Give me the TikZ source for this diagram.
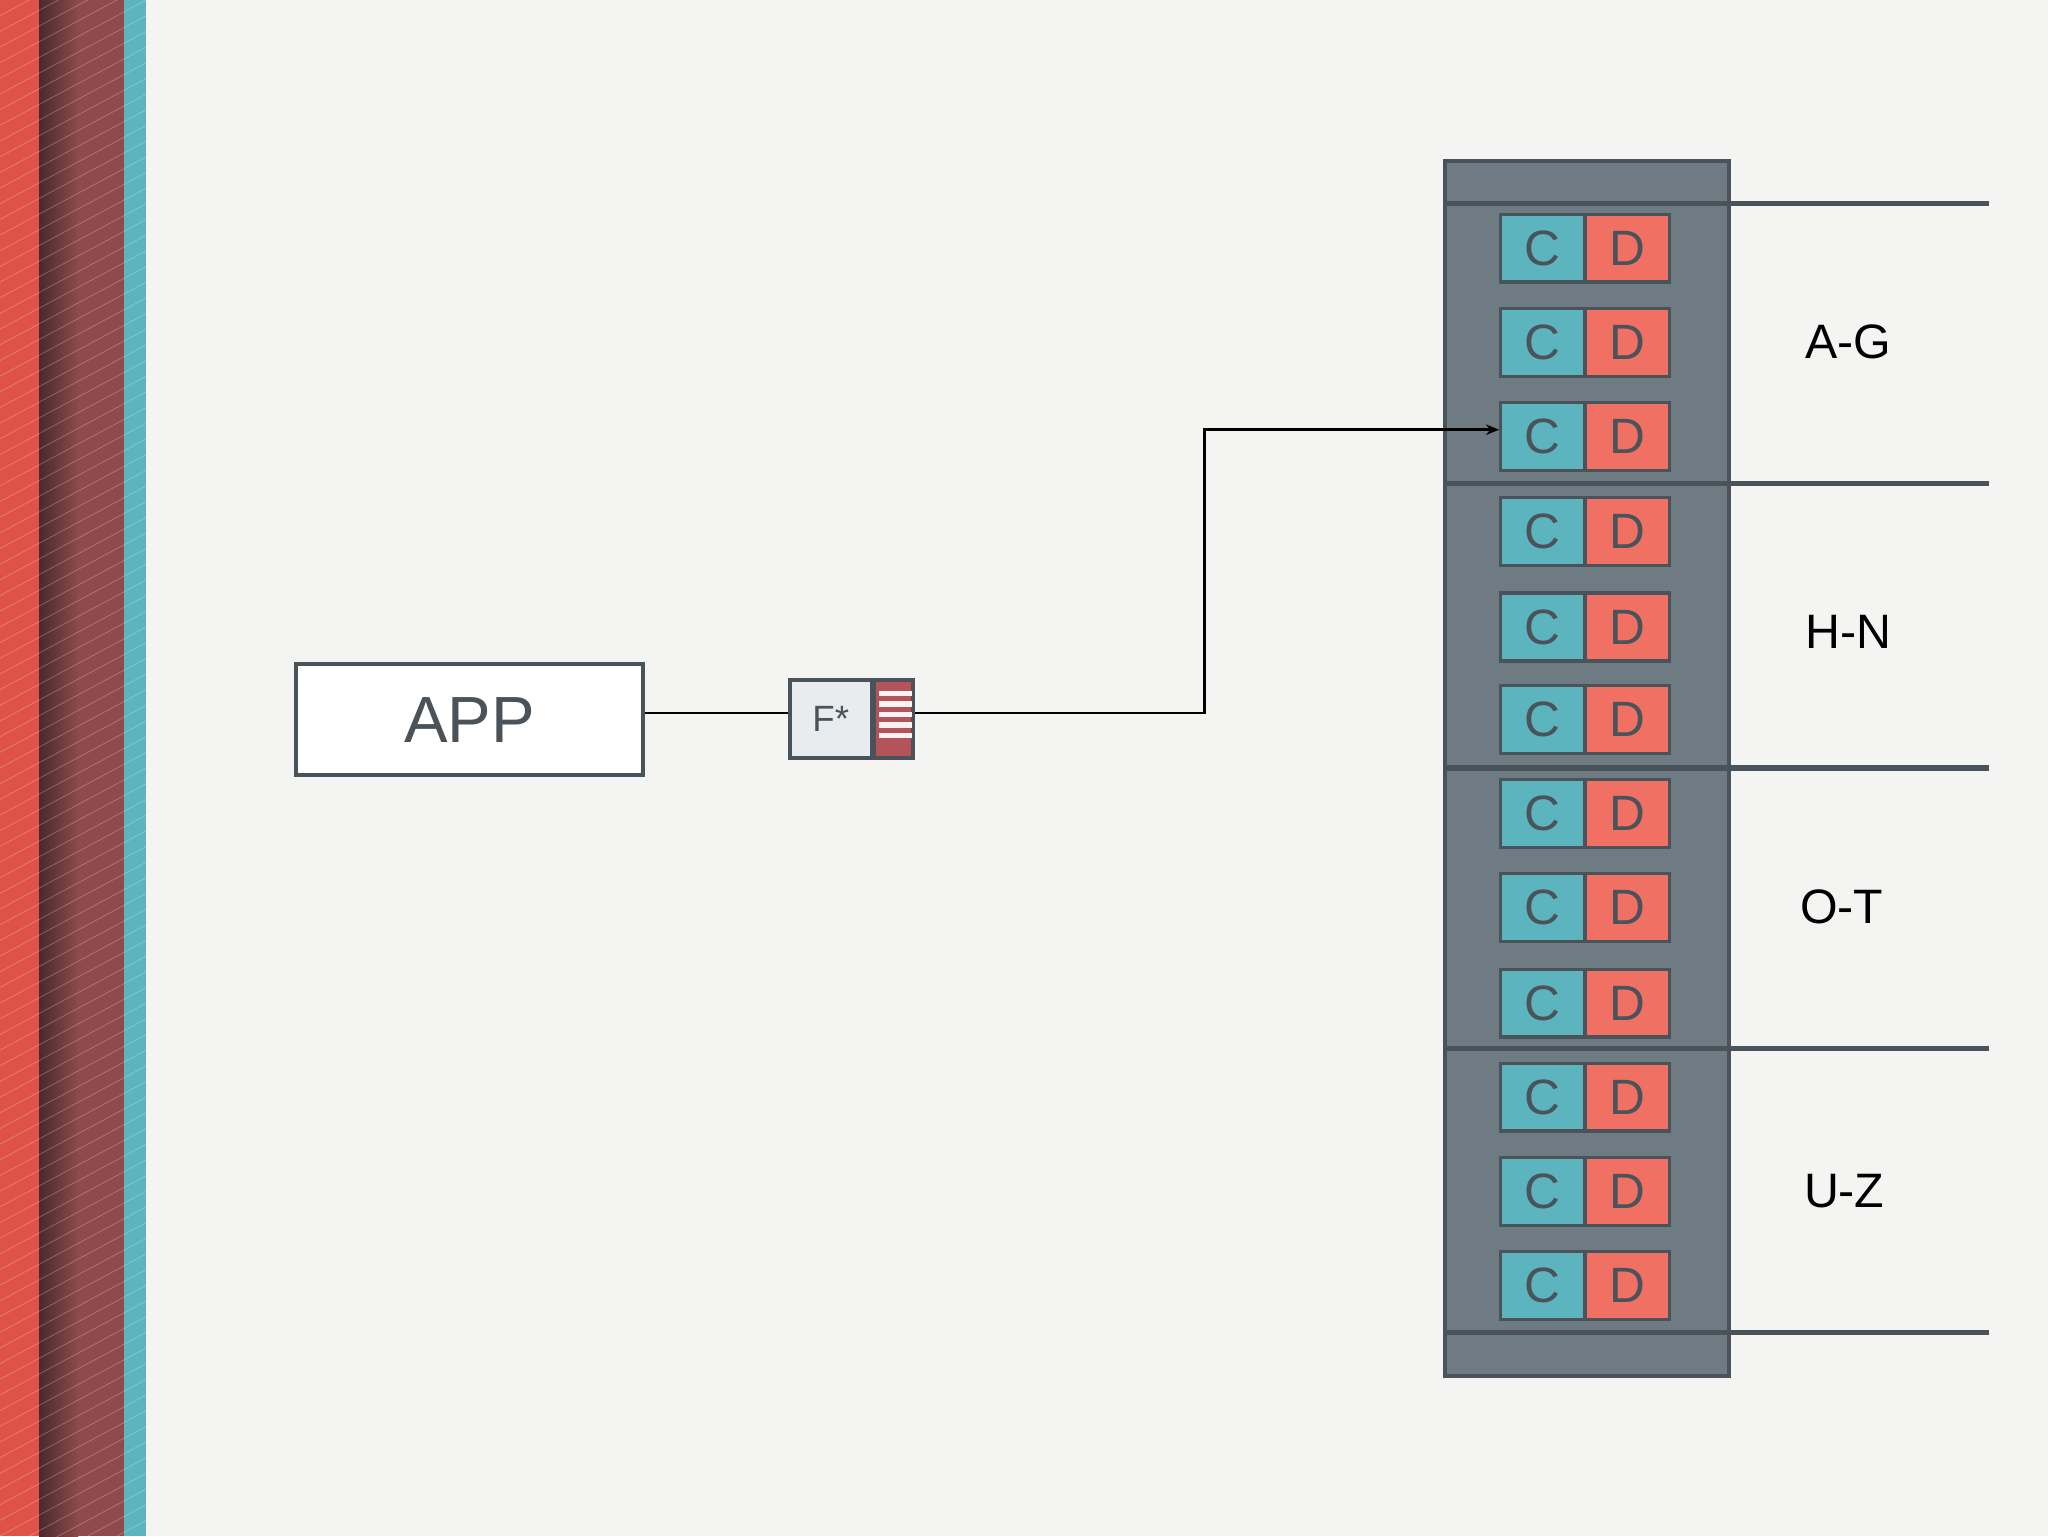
\documentclass[tikz,border=0pt]{standalone}
\usepackage{fontspec}
\setmainfont{Liberation Sans}
\usetikzlibrary{arrows.meta}
\definecolor{bg}{HTML}{F4F4F2}
\definecolor{edge}{HTML}{4A5359}
\definecolor{rack}{HTML}{6E7B82}
\definecolor{tealc}{HTML}{5BB4BE}
\definecolor{redd}{HTML}{F07064}
\definecolor{stripred}{HTML}{DE5248}
\definecolor{maroon}{HTML}{8E4A4C}
\definecolor{darkm}{HTML}{4A2A2C}
\definecolor{fred}{HTML}{B5535A}
\definecolor{fgray}{HTML}{E8ECEE}
\tikzset{
 cell/.style={draw=edge,line width=2.5pt,minimum width=64pt,minimum height=52pt,inner sep=0pt,font=\fontsize{38}{38}\selectfont,text=edge},
 band/.style={draw=edge,line width=4pt},
 lab/.style={font=\fontsize{37}{37}\selectfont,text=black},
 wire/.style={line width=2pt,black}
}
\begin{document}
\begin{tikzpicture}[x=1pt,y=-1pt]
\useasboundingbox (0,0) rectangle (1568,1176);
\fill[bg] (0,0) rectangle (1568,1176);
\fill[stripred] (0,0) rectangle (30,1176);
\shade[left color=darkm,right color=maroon] (30,0) rectangle (60,1176);
\fill[maroon] (60,0) rectangle (95,1176);
\fill[tealc] (95,0) rectangle (112,1176);
\begin{scope}
\clip (0,0) rectangle (112,1176);
\foreach \k in {-12,...,110}
  \draw[white,opacity=0.25,line width=0.6pt] (0,\k*12+60) -- (112,\k*12);
\end{scope}
% APP
\node[draw=edge,line width=3pt,fill=white,minimum width=266pt,minimum height=85pt,inner sep=0pt,
  font=\fontsize{50}{50}\selectfont,text=edge] (app) at (359.5,551) {APP};
% F*
\node[draw=edge,line width=3pt,fill=fgray,minimum width=63pt,minimum height=60pt,inner sep=0pt,
  font=\fontsize{28}{28}\selectfont,text=edge] (f) at (636,550.5) {F*};
\node[draw=edge,line width=3pt,fill=fred,minimum width=30pt,minimum height=60pt,inner sep=0pt,anchor=west] (fr) at ([xshift=-1.5pt]f.east) {};
\foreach \yy in {529,537,545,553,561}
  \fill[white!92!fred] (673,\yy) rectangle (698,\yy+4);
% rack
\node[draw=edge,line width=3pt,fill=rack,minimum width=217pt,minimum height=930pt,inner sep=0pt] (rack) at (1215,588.5) {};
\foreach \yy [count=\i] in {156,370,588,803,1020}
  \draw[band] (1105,\yy) -- (1523,\yy);
\foreach \yy [count=\i] in {190,262,334,407,480,551,623,695,768,840,912,984}{
  \node[cell,fill=tealc] (c\i) at (1181,\yy) {C};
  \node[cell,fill=redd] (d\i) at (1246,\yy) {D};
}
\node[lab] (l1) at (1415,262) {A-G};
\node[lab] (l2) at (1415,484) {H-N};
\node[lab] (l3) at (1410,694) {O-T};
\node[lab] (l4) at (1412,912) {U-Z};
% wires
\draw[wire] (app.east |- 0,546) -- (f.west |- 0,546);
\coordinate (bend1) at (922,546);
\coordinate (bend2) at (922,329);
\draw[wire,-{Stealth[length=10pt,width=8pt]}] (fr.east |- 0,546) -- (bend1) -- (bend2) -- (c3.west |- 0,329);
\end{tikzpicture}
\end{document}
